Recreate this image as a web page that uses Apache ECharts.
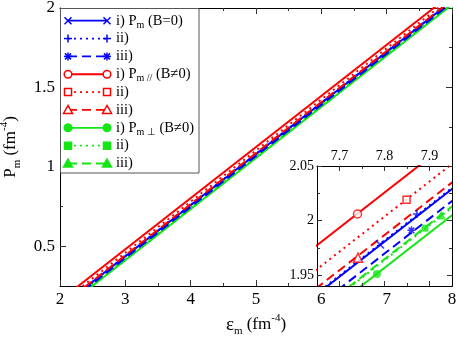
<!DOCTYPE html>
<html>
<head>
<meta charset="utf-8">
<script src="https://cdn.jsdelivr.net/npm/echarts@6/dist/echarts.min.js"></script>
<style>
html, body { margin: 0; padding: 0; background: #fff; }
#chart { width: 457px; height: 337px; }
</style>
</head>
<body>
<div id="chart"></div>
<script>
// eps_m (fm^-4) at the two ends of every line
const epsEnds = [2.2, 8.0];
// P_m at epsEnds, B = 0
const pB0i = [0.180, 2.045];
const pB0ii = [0.181, 2.046];
const pB0iii = [0.169, 2.034];
// P_m parallel, B != 0
const pParI = [0.224, 2.090];
const pParII = [0.202, 2.068];
const pParIII = [0.186, 2.051];
// P_m perpendicular, B != 0
const pPerpI = [0.155, 2.021];
const pPerpII = [0.162, 2.028];
const pPerpIII = [0.163, 2.029];

// one marker per curve in the inset [eps, P]
const mkB0i = [7.790, 1.978];
const mkB0ii = [7.872, 2.006];
const mkB0iii = [7.860, 1.991];
const mkParI = [7.740, 2.006];
const mkParII = [7.849, 2.019];
const mkParIII = [7.741, 1.966];
const mkPerpI = [7.783, 1.951];
const mkPerpII = [7.890, 1.993];
const mkPerpIII = [7.926, 2.005];

// tick values
const mainYMajor = [0.5, 1, 1.5, 2];
const mainYMinor = [0.75, 1.25, 1.75];
const insetXMajor = [7.7, 7.8, 7.9];
const insetXMinor = [7.75, 7.85];
const insetYMajor = [1.95, 2, 2.05];
const insetYMinor = [1.975, 2.025];

const SERIF = 'Liberation Serif';
const RED = '#ff0000', BLUE = '#0000ff', GREEN = '#14e614';
const DOT = [2, 4], DASH = [9, 5];

const curves = [
    { p: pB0i, mk: mkB0i, color: BLUE, type: 'solid', sym: 'x', open: false, label: ['i) P', 'm', ' (B=0)'] },
    { p: pB0ii, mk: mkB0ii, color: BLUE, type: DOT, sym: 'plus', open: false, label: ['ii)'] },
    { p: pB0iii, mk: mkB0iii, color: BLUE, type: DASH, sym: 'star', open: false, label: ['iii)'] },
    { p: pParI, mk: mkParI, color: RED, type: 'solid', sym: 'circle', open: true, label: ['i) P', 'm //', ' (B\u22600)'] },
    { p: pParII, mk: mkParII, color: RED, type: DOT, sym: 'rect', open: true, label: ['ii)'] },
    { p: pParIII, mk: mkParIII, color: RED, type: DASH, sym: 'triangle', open: true, label: ['iii)'] },
    { p: pPerpI, mk: mkPerpI, color: GREEN, type: 'solid', sym: 'circle', open: false, label: ['i) P', 'm \u22a5', ' (B\u22600)'] },
    { p: pPerpII, mk: mkPerpII, color: GREEN, type: DOT, sym: 'rect', open: false, label: ['ii)'] },
    { p: pPerpIII, mk: mkPerpIII, color: GREEN, type: DASH, sym: 'triangle', open: false, label: ['iii)'] }
];

const symbolPaths = {
    x: 'path://M0,0L10,10M10,0L0,10',
    plus: 'path://M5,0L5,10M0,5L10,5',
    star: 'path://M5,0L5,10M0,5L10,5M1.5,1.5L8.5,8.5M8.5,1.5L1.5,8.5'
};

function seriesSymbol(c) {
    if (symbolPaths[c.sym]) {
        return { symbol: symbolPaths[c.sym], size: 8, style: { color: 'none', borderColor: c.color, borderWidth: 1.5 } };
    }
    let size = c.sym === 'triangle' ? 9 : c.sym === 'rect' ? 7 : 8;
    if (c.open) {
        return { symbol: c.sym, size: size, style: { color: '#fff', borderColor: c.color, borderWidth: 1.5 } };
    }
    return { symbol: c.sym, size: size, style: { color: c.color } };
}

// legend swatch markers drawn with graphic elements
function legendMarker(c, cx, cy) {
    let fill = c.open ? '#fff' : c.color;
    let st = { fill: fill, stroke: c.color, lineWidth: 1.5 };
    let ln = (x1, y1, x2, y2) => ({ type: 'line', shape: { x1: x1, y1: y1, x2: x2, y2: y2 }, style: { stroke: c.color, lineWidth: 1.5 } });
    let r = 3.5;
    switch (c.sym) {
        case 'x': return [ln(cx - r, cy - r, cx + r, cy + r), ln(cx - r, cy + r, cx + r, cy - r)];
        case 'plus': return [ln(cx - r - 0.5, cy, cx + r + 0.5, cy), ln(cx, cy - r - 0.5, cx, cy + r + 0.5)];
        case 'star': return [ln(cx - r - 0.5, cy, cx + r + 0.5, cy), ln(cx, cy - r - 0.5, cx, cy + r + 0.5),
            ln(cx - 3, cy - 3, cx + 3, cy + 3), ln(cx - 3, cy + 3, cx + 3, cy - 3)];
        case 'circle': return [{ type: 'circle', shape: { cx: cx, cy: cy, r: 3.8 }, style: st }];
        case 'rect': return [{ type: 'rect', shape: { x: cx - 3.5, y: cy - 3.5, width: 7, height: 7 }, style: st }];
        case 'triangle': return [{ type: 'polygon', shape: { points: [[cx, cy - 4.5], [cx + 4.5, cy + 3.5], [cx - 4.5, cy + 3.5]] }, style: st }];
    }
    return [];
}

const richText = {
    n: { fontFamily: SERIF, fontSize: 14.5, color: '#000', lineHeight: 19, verticalAlign: 'middle' },
    s: { fontFamily: SERIF, fontSize: 10, color: '#000', lineHeight: 19, verticalAlign: 'bottom' }
};

function legendGraphic() {
    let els = [{
        type: 'rect', shape: { x: 60.5, y: 8.5, width: 138.5, height: 164.5 },
        style: { fill: '#fff', stroke: '#555', lineWidth: 1 }, z: 10
    }];
    curves.forEach((c, i) => {
        let cy = 20.7 + i * 17.85;
        els.push({
            type: 'line', shape: { x1: 68, y1: cy, x2: 107, y2: cy },
            style: { stroke: c.color, lineWidth: 1.8, lineDash: c.type === 'solid' ? null : c.type }, z: 11
        });
        legendMarker(c, 68, cy).concat(legendMarker(c, 107, cy)).forEach(e => { e.z = 12; els.push(e); });
        let txt = '{n|' + c.label[0] + '}';
        if (c.label.length > 1) txt += '{s|' + c.label[1] + '}{n|' + c.label[2] + '}';
        els.push({
            type: 'text', x: 116, y: cy, z: 12,
            style: { text: txt, rich: richText, verticalAlign: 'middle', align: 'left', fill: '#000' }
        });
    });
    return els;
}

const axisLineBlack = { show: true, onZero: false, lineStyle: { color: '#000', width: 1 } };
const noLine = { show: false, onZero: false };

function valAxis(extra) {
    return Object.assign({
        type: 'value', scale: true, splitLine: { show: false },
        axisLine: noLine, axisLabel: { show: false }
    }, extra);
}

// inset axes sit above the inset's white background
function insetAxis(extra) {
    return valAxis(Object.assign({ gridIndex: 1, z: 8 }, extra));
}

const nameRich = {
    n: { fontFamily: SERIF, fontSize: 17, color: '#000', lineHeight: 24, verticalAlign: 'middle' },
    e: { fontFamily: SERIF, fontSize: 19, color: '#000', lineHeight: 24, verticalAlign: 'middle' },
    s: { fontFamily: SERIF, fontSize: 11, color: '#000', lineHeight: 24, verticalAlign: 'bottom' },
    u: { fontFamily: SERIF, fontSize: 11, color: '#000', lineHeight: 24, verticalAlign: 'top' }
};

const tickColor = { color: '#333' };

const xAxes = [
    // main plot
    valAxis({
        gridIndex: 0, position: 'bottom', min: 2, max: 8, interval: 1, axisLine: axisLineBlack,
        axisTick: { inside: true, length: 6, lineStyle: tickColor },
        minorTick: { show: true, splitNumber: 2, length: 3, lineStyle: tickColor },
        axisLabel: { show: true, fontFamily: SERIF, fontSize: 17, color: '#000', margin: 5, showMinLabel: true, showMaxLabel: true },
        name: '{e|\u03b5}{s|m}{n| (fm}{u|-4}{n|)}', nameLocation: 'middle', nameGap: 22,
        nameTextStyle: { rich: nameRich }
    }),
    valAxis({
        gridIndex: 0, position: 'top', min: 2, max: 8, interval: 1, axisLine: axisLineBlack,
        axisTick: { inside: true, length: 6, lineStyle: tickColor },
        minorTick: { show: true, splitNumber: 2, length: 3, lineStyle: tickColor }
    }),
    // inset
    insetAxis({
        position: 'top', min: 7.65, max: 7.95, axisLine: axisLineBlack,
        axisTick: { inside: true, length: 5, customValues: insetXMajor, lineStyle: tickColor },
        axisLabel: { show: true, customValues: insetXMajor, fontFamily: SERIF, fontSize: 14, color: '#000', margin: 3 }
    }),
    insetAxis({
        position: 'top', min: 7.65, max: 7.95,
        axisTick: { inside: true, length: 3, customValues: insetXMinor, lineStyle: tickColor }
    }),
    insetAxis({
        position: 'bottom', min: 7.65, max: 7.95, axisLine: axisLineBlack,
        axisTick: { inside: true, length: 5, customValues: insetXMajor, lineStyle: tickColor }
    }),
    insetAxis({
        position: 'bottom', min: 7.65, max: 7.95,
        axisTick: { inside: true, length: 3, customValues: insetXMinor, lineStyle: tickColor }
    })
];

const yAxes = [
    // main plot
    valAxis({
        gridIndex: 0, position: 'left', min: 0.25, max: 2, axisLine: axisLineBlack,
        axisTick: { inside: true, length: 6, customValues: mainYMajor, lineStyle: tickColor },
        axisLabel: { show: true, customValues: mainYMajor, fontFamily: SERIF, fontSize: 17, color: '#000', margin: 5 },
        name: '{n|P}{s|m}{n| (fm}{u|-4}{n|)}', nameLocation: 'middle', nameGap: 30, nameRotate: 90,
        nameTextStyle: { rich: nameRich }
    }),
    valAxis({
        gridIndex: 0, position: 'left', min: 0.25, max: 2,
        axisTick: { inside: true, length: 3, customValues: mainYMinor, lineStyle: tickColor }
    }),
    valAxis({
        gridIndex: 0, position: 'right', min: 0.25, max: 2, axisLine: axisLineBlack,
        axisTick: { inside: true, length: 6, customValues: mainYMajor, lineStyle: tickColor }
    }),
    valAxis({
        gridIndex: 0, position: 'right', min: 0.25, max: 2,
        axisTick: { inside: true, length: 3, customValues: mainYMinor, lineStyle: tickColor }
    }),
    // inset
    insetAxis({
        position: 'left', min: 1.94, max: 2.05, axisLine: axisLineBlack,
        axisTick: { inside: true, length: 5, customValues: insetYMajor, lineStyle: tickColor },
        axisLabel: { show: true, customValues: insetYMajor, fontFamily: SERIF, fontSize: 14, color: '#000', margin: 3 }
    }),
    insetAxis({
        position: 'left', min: 1.94, max: 2.05,
        axisTick: { inside: true, length: 3, customValues: insetYMinor, lineStyle: tickColor }
    }),
    insetAxis({
        position: 'right', min: 1.94, max: 2.05, axisLine: axisLineBlack,
        axisTick: { inside: true, length: 5, customValues: insetYMajor, lineStyle: tickColor }
    }),
    insetAxis({
        position: 'right', min: 1.94, max: 2.05,
        axisTick: { inside: true, length: 3, customValues: insetYMinor, lineStyle: tickColor }
    })
];

const series = [];
// main curves (green under blue under red)
[6, 7, 8, 0, 1, 2, 3, 4, 5].forEach(i => {
    let c = curves[i];
    series.push({
        type: 'line', xAxisIndex: 0, yAxisIndex: 0, showSymbol: false, silent: true, clip: true,
        data: epsEnds.map((e, k) => [e, c.p[k]]),
        lineStyle: { color: c.color, width: 2, type: c.type }, z: 3
    });
});
// inset curves and markers
[6, 7, 8, 0, 1, 2, 3, 4, 5].forEach(i => {
    let c = curves[i];
    series.push({
        type: 'line', xAxisIndex: 2, yAxisIndex: 4, showSymbol: false, silent: true, clip: true,
        data: epsEnds.map((e, k) => [e, c.p[k]]),
        lineStyle: { color: c.color, width: 2, type: c.type }, z: 5
    });
    let s = seriesSymbol(c);
    series.push({
        type: 'scatter', xAxisIndex: 2, yAxisIndex: 4, silent: true, clip: true,
        data: [c.mk], symbol: s.symbol, symbolSize: s.size, itemStyle: s.style, z: 6
    });
});

const chart = echarts.init(document.getElementById('chart'), null, { renderer: 'canvas' });
chart.setOption({
    backgroundColor: '#fff',
    animation: false,
    grid: [
        { left: 60, top: 8, width: 392, height: 278, show: false, outerBoundsMode: 'none' },
        { left: 317, top: 166, width: 135, height: 120, show: true, backgroundColor: '#fff', borderWidth: 0, z: 4, outerBoundsMode: 'none' }
    ],
    xAxis: xAxes,
    yAxis: yAxes,
    series: series,
    graphic: legendGraphic()
});
</script>
</body>
</html>
